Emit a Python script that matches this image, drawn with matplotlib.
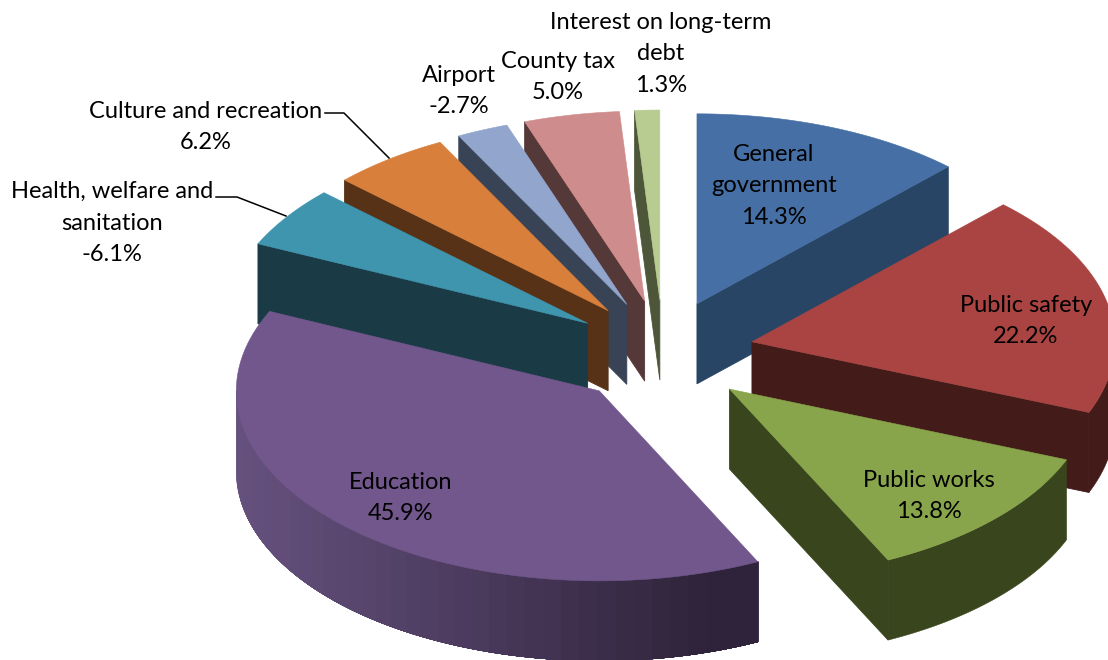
import numpy as np
import matplotlib
matplotlib.use("Agg")
import matplotlib.pyplot as plt
from matplotlib.colors import to_rgb

# Kiadasi tetelek, oramutato jarasaban 12 oratol
names = ["General\ngovernment", "Public safety", "Public works", "Education",
         "Health, welfare and\nsanitation", "Culture and recreation",
         "Airport", "County tax", "Interest on long-term\ndebt"]
values = [14.3, 22.2, 13.8, 45.9, -6.1, 6.2, -2.7, 5.0, 1.3]
top_colors = ["#4670A5", "#A94442", "#88A54B", "#71578C", "#3F94AE",
              "#D87F3B", "#92A6CD", "#CF8C8C", "#B8CC92"]
side_colors = ["#284565", "#431C1A", "#39451D", "#2E233A", "#1A3A45",
               "#573217", "#384356", "#553838", "#4D5638"]
label_pos = [(774, 186), (1026, 321), (929, 496), (401, 498), (112, 223),
             (206, 127), (459, 91), (558, 77), (661, 54)]

# Pite geometria pixelben
CX, CY = 663, 353
RX, RY = 363, 190
EX, EY = 91, 53
DEPTH = 80

plt.rcParams["font.family"] = ["Lato", "DejaVu Sans"]
fig = plt.figure(figsize=(11.08, 6.6), dpi=100)
ax = fig.add_axes([0, 0, 1, 1])
ax.set_xlim(0, 1108)
ax.set_ylim(660, 0)
ax.axis("off")

sizes = np.abs(values)
edges = np.concatenate([[0], np.cumsum(sizes)]) / sizes.sum() * 360


def apex_of(i):
    mid = np.radians((edges[i] + edges[i + 1]) / 2)
    return CX + EX * np.sin(mid), CY - EY * np.cos(mid)


def rim(ax_, ay_, deg):
    t = np.radians(deg)
    return ax_ + RX * np.sin(t), ay_ - RY * np.cos(t)


def wall(ax_, ay_, lo, hi, col, z):
    t = np.linspace(lo, hi, 60)
    xs, ys = rim(ax_, ay_, t)
    ax.fill(np.r_[xs, xs[::-1]], np.r_[ys, ys[::-1] + DEPTH], color=col, lw=0.4, zorder=z)


def draw_slice(i, z):
    a0, a1 = edges[i], edges[i + 1]
    ax_, ay_ = apex_of(i)
    side = side_colors[i]

    # radialis falak, csak ami a nezo fele nez
    if np.sin(np.radians(a1)) > 0.01:
        x, y = rim(ax_, ay_, a1)
        ax.fill([ax_, x, x, ax_], [ay_, y, y + DEPTH, ay_ + DEPTH],
                color=side, lw=0.6, zorder=z)
    if np.sin(np.radians(a0)) < -0.01:
        x, y = rim(ax_, ay_, a0)
        ax.fill([ax_, x, x, ax_], [ay_, y, y + DEPTH, ay_ + DEPTH],
                color=side, lw=0.6, zorder=z)

    # kulso iv fala
    lo, hi = max(a0, 90), min(a1, 270)
    if hi > lo:
        if i == 3:
            # Education: balrol jobbra sotetedo savok, egymasra rajzolva
            light = np.array(to_rgb("#66517E"))
            dark = np.array(to_rgb(side))
            steps = np.linspace(hi, lo, 41)
            for s in steps[:-1]:
                x0 = rim(ax_, ay_, s)[0]
                k = min((x0 - (ax_ - RX)) / (2 * RX * 0.64), 1)
                wall(ax_, ay_, lo, s, light + (dark - light) * k, z)
        else:
            wall(ax_, ay_, lo, hi, side, z)

    # felso lap
    t = np.linspace(a0, a1, 80)
    xs, ys = rim(ax_, ay_, t)
    ax.fill(np.r_[ax_, xs], np.r_[ay_, ys], color=top_colors[i], lw=0.4, zorder=z + 0.5)


# hatulrol elore
for z, i in enumerate([8, 7, 6, 5, 4, 0, 1, 2, 3]):
    draw_slice(i, z + 1)

# vezetovonalak
ax.plot([325, 344, 389], [113, 113, 158], color="black", lw=1.1, zorder=20)
ax.plot([216, 237, 286], [197, 197, 216], color="black", lw=1.1, zorder=20)

for name, val, pos in zip(names, values, label_pos):
    ax.text(pos[0], pos[1], f"{name}\n{val:.1f}%", ha="center", va="center",
            fontsize=17, color="black", linespacing=1.6, zorder=30)

fig.savefig("out.png", dpi=100)
